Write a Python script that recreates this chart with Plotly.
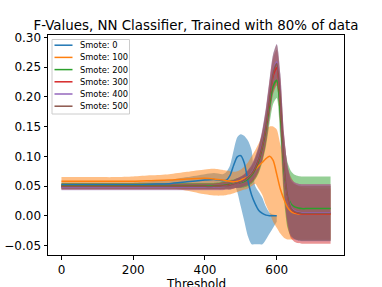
import plotly.graph_objects as go

# ---- data ----
thresholds = [0, 50, 100, 150, 200, 250, 300, 350, 400, 425, 450, 460, 470, 480, 490,
              500, 510, 520, 530, 540, 550, 560, 570, 580, 590, 600, 610, 620, 630, 640,
              650, 660, 670, 680, 700, 725, 750]
series_names = ["Smote: 0", "Smote: 100", "Smote: 200", "Smote: 300", "Smote: 400", "Smote: 500"]

smote0_mean = [0.052, 0.052, 0.052, 0.052, 0.052, 0.053, 0.054, 0.057, 0.060, 0.061, 0.059, 0.060, 0.068, 0.085, 0.099,
               0.101, 0.088, 0.058, 0.035, 0.020, 0.009, 0.004, 0.001, 0.000, 0.000, 0.000]
smote0_hi = [0.056, 0.056, 0.056, 0.056, 0.056, 0.058, 0.060, 0.065, 0.070, 0.072, 0.070, 0.074, 0.085, 0.110, 0.132,
             0.137, 0.134, 0.126, 0.110, 0.050, 0.040, 0.030, 0.015, 0.005, 0.002, 0.001]
smote0_lo = [0.048, 0.048, 0.048, 0.048, 0.048, 0.048, 0.048, 0.049, 0.050, 0.050, 0.050, 0.050, 0.055, 0.055, 0.040,
             0.015, -0.010, -0.035, -0.048, -0.048, -0.048, -0.048, -0.040, -0.030, -0.020, -0.010]

smote100_mean = [0.058, 0.058, 0.058, 0.058, 0.058, 0.059, 0.060, 0.062, 0.063, 0.062, 0.060, 0.059, 0.058, 0.057, 0.058,
                 0.060, 0.063, 0.066, 0.072, 0.078, 0.084, 0.090, 0.096, 0.100, 0.093, 0.070, 0.045, 0.028, 0.014, 0.007,
                 0.004, 0.003, 0.003, 0.003, 0.003, 0.003, 0.003]
smote100_hi = [0.065, 0.065, 0.065, 0.065, 0.066, 0.068, 0.070, 0.074, 0.078, 0.079, 0.077, 0.076, 0.075, 0.074, 0.075,
               0.078, 0.083, 0.090, 0.100, 0.110, 0.122, 0.135, 0.145, 0.150, 0.150, 0.145, 0.120, 0.098, 0.080, 0.065,
               0.055, 0.050, 0.048, 0.047, 0.046, 0.046, 0.046]
smote100_lo = [0.051, 0.051, 0.051, 0.051, 0.050, 0.049, 0.047, 0.042, 0.036, 0.034, 0.034, 0.035, 0.036, 0.038, 0.040,
               0.042, 0.044, 0.046, 0.050, 0.054, 0.045, 0.035, 0.018, 0.005, -0.010, -0.020, -0.030, -0.037, -0.040, -0.040,
               -0.040, -0.040, -0.040, -0.040, -0.040, -0.040, -0.040]

smote200_mean = [0.050, 0.050, 0.050, 0.050, 0.050, 0.050, 0.050, 0.050, 0.050, 0.050, 0.051, 0.052, 0.053, 0.054, 0.055,
                 0.056, 0.058, 0.062, 0.068, 0.078, 0.092, 0.115, 0.145, 0.185, 0.218, 0.228, 0.170, 0.080, 0.035, 0.020,
                 0.015, 0.013, 0.012, 0.012, 0.012, 0.012, 0.012]
smote200_std = [0.005, 0.005, 0.005, 0.005, 0.005, 0.005, 0.005, 0.005, 0.005, 0.005, 0.006, 0.006, 0.007, 0.007, 0.008,
                0.009, 0.010, 0.012, 0.014, 0.017, 0.020, 0.024, 0.028, 0.030, 0.030, 0.030, 0.040, 0.050, 0.055, 0.055,
                0.054, 0.054, 0.054, 0.054, 0.054, 0.054, 0.054]

smote300_mean = [0.049, 0.049, 0.049, 0.049, 0.049, 0.049, 0.049, 0.049, 0.049, 0.049, 0.050, 0.051, 0.052, 0.053, 0.055,
                 0.057, 0.060, 0.064, 0.070, 0.080, 0.095, 0.118, 0.150, 0.195, 0.235, 0.249, 0.190, 0.090, 0.035, 0.012,
                 0.006, 0.004, 0.003, 0.003, 0.003, 0.003, 0.003]
smote300_std = [0.005, 0.005, 0.005, 0.005, 0.005, 0.005, 0.005, 0.005, 0.005, 0.005, 0.006, 0.006, 0.007, 0.007, 0.008,
                0.009, 0.010, 0.012, 0.014, 0.017, 0.020, 0.024, 0.028, 0.030, 0.030, 0.030, 0.040, 0.048, 0.050, 0.050,
                0.050, 0.050, 0.050, 0.050, 0.050, 0.050, 0.050]

smote400_mean = [0.048, 0.048, 0.048, 0.048, 0.048, 0.048, 0.048, 0.048, 0.048, 0.048, 0.049, 0.050, 0.051, 0.053, 0.055,
                 0.057, 0.060, 0.065, 0.072, 0.083, 0.098, 0.122, 0.155, 0.200, 0.242, 0.259, 0.200, 0.095, 0.038, 0.014,
                 0.008, 0.006, 0.005, 0.005, 0.005, 0.005, 0.005]
smote400_std = [0.005, 0.005, 0.005, 0.005, 0.005, 0.005, 0.005, 0.005, 0.005, 0.005, 0.006, 0.006, 0.007, 0.007, 0.008,
                0.009, 0.010, 0.012, 0.014, 0.017, 0.020, 0.024, 0.028, 0.030, 0.030, 0.030, 0.040, 0.046, 0.048, 0.048,
                0.048, 0.048, 0.048, 0.048, 0.048, 0.048, 0.048]

smote500_mean = [0.049, 0.049, 0.049, 0.049, 0.049, 0.049, 0.049, 0.049, 0.049, 0.049, 0.050, 0.050, 0.051, 0.053, 0.055,
                 0.057, 0.060, 0.065, 0.071, 0.082, 0.097, 0.120, 0.153, 0.198, 0.240, 0.256, 0.198, 0.094, 0.037, 0.013,
                 0.007, 0.005, 0.004, 0.004, 0.004, 0.004, 0.004]
smote500_std = [0.005, 0.005, 0.005, 0.005, 0.005, 0.005, 0.005, 0.005, 0.005, 0.005, 0.006, 0.006, 0.007, 0.007, 0.008,
                0.009, 0.010, 0.012, 0.014, 0.017, 0.020, 0.024, 0.028, 0.030, 0.031, 0.032, 0.040, 0.046, 0.046, 0.046,
                0.046, 0.046, 0.046, 0.046, 0.046, 0.046, 0.046]

x_ticks = [0, 200, 400, 600]
y_ticks = [-0.05, 0.00, 0.05, 0.10, 0.15, 0.20, 0.25, 0.30]

colors = ["#1f77b4", "#ff7f0e", "#2ca02c", "#d62728", "#9467bd", "#8c564b"]
fills = ["rgba(31,119,180,0.5)", "rgba(255,127,14,0.5)", "rgba(44,160,44,0.5)",
         "rgba(214,39,40,0.5)", "rgba(148,103,189,0.5)", "rgba(140,86,75,0.5)"]

means = [smote0_mean, smote100_mean, smote200_mean, smote300_mean, smote400_mean, smote500_mean]
bands = [(smote0_lo, smote0_hi), (smote100_lo, smote100_hi)]
for m, s in [(smote200_mean, smote200_std), (smote300_mean, smote300_std),
             (smote400_mean, smote400_std), (smote500_mean, smote500_std)]:
    bands.append(([a - b for a, b in zip(m, s)], [a + b for a, b in zip(m, s)]))

SH = dict(shape="spline", smoothing=0.7)
fig = go.Figure()
for i in range(6):
    lo, hi = bands[i]
    xs = thresholds[:len(lo)]
    fig.add_trace(go.Scatter(x=xs, y=lo, mode="lines", line=dict(width=0, **SH),
                             showlegend=False, hoverinfo="skip"))
    fig.add_trace(go.Scatter(x=xs, y=hi, mode="lines", line=dict(width=0, **SH),
                             fill="tonexty", fillcolor=fills[i], showlegend=False, hoverinfo="skip"))
for i in range(6):
    m = means[i]
    fig.add_trace(go.Scatter(x=thresholds[:len(m)], y=m, mode="lines", name=series_names[i],
                             showlegend=False, line=dict(color=colors[i], width=1.5, **SH)))

# ---- layout geometry (pixels) ----
W, H = 382, 287
ML, MR, MT, MB = 48, 38, 35, 32
PW, PH = W - ML - MR, H - MT - MB


def px_x(px):
    return (px - ML) / PW


def px_y(py):
    return (H - MB - py) / PH


font = "DejaVu Sans"

# compact matplotlib-style legend
shapes = [dict(type="rect", xref="paper", yref="paper",
               x0=px_x(52), x1=px_x(129.5), y0=px_y(114), y1=px_y(39.5),
               line=dict(color="#cccccc", width=1), fillcolor="rgba(255,255,255,0.8)", layer="above")]
annotations = []
for i, name in enumerate(series_names):
    yy = px_y(45.2 + i * 12.2)
    shapes.append(dict(type="line", xref="paper", yref="paper", x0=px_x(54.5), x1=px_x(72.5),
                       y0=yy, y1=yy, line=dict(color=colors[i], width=1.5), layer="above"))
    annotations.append(dict(text=name, xref="paper", yref="paper", x=px_x(78), y=yy,
                            xanchor="left", yanchor="middle", showarrow=False,
                            font=dict(family=font, size=8.3, color="black")))
annotations.append(dict(text="Threshold", xref="paper", yref="paper", x=0.5, y=px_y(284),
                        xanchor="center", yanchor="middle", showarrow=False,
                        font=dict(family=font, size=12, color="black")))

axis_common = dict(showline=True, mirror=True, linecolor="black", linewidth=1,
                   ticks="outside", ticklen=3.5, tickwidth=1, tickcolor="black",
                   showgrid=False, zeroline=False, tickfont=dict(family=font, size=12, color="black"))
fig.update_layout(
    width=W, height=H,
    margin=dict(l=ML, r=MR, t=MT, b=MB),
    paper_bgcolor="white", plot_bgcolor="white",
    showlegend=False,
    title=dict(text="F-Values, NN Classifier, Trained with 80% of data",
               font=dict(family=font, size=13.4, color="black"),
               x=0.5, xref="paper", xanchor="center", y=1 - 25.5 / H, yref="container", yanchor="middle"),
    xaxis=dict(range=[-37.5, 787.5], tickvals=x_ticks, automargin=False, **axis_common),
    yaxis=dict(range=[-0.066, 0.304], tickvals=y_ticks, tickformat=".2f", automargin=False, **axis_common),
    shapes=shapes,
    annotations=annotations,
)
fig.write_html("out.html", config={"displayModeBar": False},
               post_script="document.body.style.margin='0';document.body.style.overflow='hidden';")
